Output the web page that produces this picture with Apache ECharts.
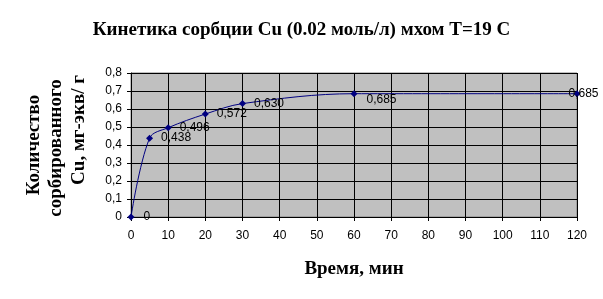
<!DOCTYPE html>
<html><head><meta charset="utf-8">
<script src="https://cdn.jsdelivr.net/npm/echarts@6/dist/echarts.min.js"></script>
<style>html,body{margin:0;padding:0;background:#fff}#c{width:603px;height:299px}</style>
</head><body><div id="c"></div>
<script>
const times = [0, 5, 10, 20, 30, 60, 120];
const values = [0, 0.438, 0.496, 0.572, 0.630, 0.685, 0.685];
const labels = ['0', '0,438', '0,496', '0,572', '0,630', '0,685', '0,685'];
const titleText = 'Кинетика сорбции Cu (0.02 моль/л) мхом T=19 C';
const xName = 'Время, мин';
const yNameLines = ['Количество', 'сорбированного', 'Cu, мг-экв/ г'];

const labelOffsets = [[4,0],[3,0],[3,0],[3,0],[3,0],[4,6],[-17,0]];
const yNamePos = [[34,145],[56,148],[79,130]];
const chart = echarts.init(document.getElementById('c'));
const fmt = v => v === 0 ? '0' : v.toFixed(1).replace('.', ',');
chart.setOption({
  animation: false,
  title: { text: titleText, left: 'center', top: 16,
    textStyle: { fontFamily: 'Liberation Serif', fontWeight: 'bold', fontSize: 19, color: '#000' } },
  grid: { left: 131, right: 26, top: 73, bottom: 82, show: true, backgroundColor: '#C0C0C0', borderColor: '#808080', borderWidth: 1 },
  xAxis: { type: 'value', min: 0, max: 120, interval: 10,
    name: xName, nameLocation: 'middle', nameGap: 43,
    nameTextStyle: { fontFamily: 'Liberation Serif', fontWeight: 'bold', fontSize: 19, color: '#000' },
    axisLine: { lineStyle: { color: '#000' } },
    axisTick: { show: true, length: 4, lineStyle: { color: '#000' } },
    axisLabel: { fontFamily: 'Liberation Sans', fontSize: 12, color: '#000', margin: 13 },
    splitLine: { show: true, lineStyle: { color: '#000', width: 1 } } },
  yAxis: { type: 'value', min: 0, max: 0.8, interval: 0.1,
    axisLine: { show: true, lineStyle: { color: '#000' } },
    axisTick: { show: true, length: 4, lineStyle: { color: '#000' } },
    axisLabel: { fontFamily: 'Liberation Sans', fontSize: 12, color: '#000', margin: 9, formatter: fmt },
    splitLine: { show: true, lineStyle: { color: '#000', width: 1 } } },
  graphic: yNameLines.map((t, i) => ({ type: 'text', x: yNamePos[i][0], y: yNamePos[i][1], rotation: Math.PI/2,
    style: { text: t, x: 0, y: 0, align: 'center', verticalAlign: 'middle',
      font: 'bold 19px "Liberation Serif"', fill: '#000' } })),
  series: [{ type: 'line', smooth: 0.35,
    data: times.map((t, i) => ({ value: [t, values[i]],
      label: { show: true, position: 'right', offset: labelOffsets[i], formatter: labels[i],
        fontFamily: 'Liberation Sans', fontSize: 12, color: '#000' } })),
    symbol: 'diamond', symbolSize: 7,
    itemStyle: { color: '#000080' },
    lineStyle: { color: '#000080', width: 1 } }]
});
</script></body></html>
